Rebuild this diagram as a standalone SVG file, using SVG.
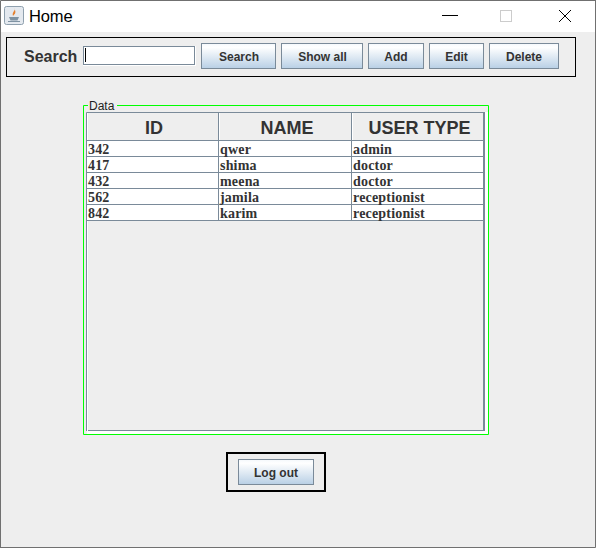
<svg xmlns="http://www.w3.org/2000/svg" width="596" height="548" viewBox="0 0 596 548">
<style>
.s{font-family:"Liberation Sans",Arial,sans-serif;font-weight:bold;fill:#333333}
.b{font-size:12px;text-anchor:middle}
.h{font-size:18px;text-anchor:middle}
.c{font-family:"Liberation Serif","Times New Roman",serif;font-weight:bold;font-size:14px;letter-spacing:.18px;fill:#333333}
.btn{fill:url(#g);stroke:#7a8a99;stroke-width:1}
.l{stroke:#7a8a99;stroke-width:1;fill:none}
</style>
<defs>
<linearGradient id="g" x1="0" y1="0" x2="0" y2="1">
<stop offset="0" stop-color="#f4f8fc"/><stop offset="0.15" stop-color="#ffffff"/><stop offset="1" stop-color="#b8cfe5"/>
</linearGradient>
</defs>
<rect width="596" height="548" fill="#eeeeee"/>
<g id="titlebar">
<rect x="0" y="0" width="596" height="32" fill="#ffffff"/>
<g id="app-icon">
<rect x="4.500" y="6.500" width="19" height="18" rx="2" fill="#e4e9ef" stroke="#8fa0ae"/>
<path d="M9 17h10l-1.500 3.500h-7z" fill="#7f93a3"/>
<path d="M8 21.500h12" stroke="#7f93a3"/>
<path d="M14 8c2.500 2.500-2.500 3.500-1 8 1.500-2 4-3 1-8z" fill="#e5812f"/>
</g>
<text x="29" y="22" font-family="'Liberation Sans',Arial,sans-serif" font-size="16.500" letter-spacing="-.15" fill="#000000">Home</text>
<path d="M442 15.500h16" stroke="#000" stroke-width="1"/>
<rect x="500.500" y="10.500" width="11" height="11" fill="none" stroke="#cccccc"/>
<path d="M559 10l12 12M571 10l-12 12" stroke="#000" stroke-width="1" fill="none"/>
</g>
<g id="search-panel">
<rect x="6.500" y="37.500" width="569" height="39" fill="none" stroke="#000"/>
<text class="s" x="24" y="62" font-size="16">Search</text>
<rect x="83" y="46" width="113" height="20" fill="#ffffff"/>
<rect x="83.500" y="46.500" width="111" height="18" fill="#ffffff" stroke="#7a8a99"/>
<path d="M85.500 48v14" stroke="#000"/>
</g>
<g id="btn-search"><rect class="btn" x="201.500" y="43.500" width="74" height="25"/><text class="s b" x="239" y="61">Search</text></g>
<g id="btn-showall"><rect class="btn" x="281.500" y="43.500" width="81" height="25"/><text class="s b" x="322.500" y="61">Show all</text></g>
<g id="btn-add"><rect class="btn" x="368.500" y="43.500" width="55" height="25"/><text class="s b" x="396" y="61">Add</text></g>
<g id="btn-edit"><rect class="btn" x="429.500" y="43.500" width="54" height="25"/><text class="s b" x="456.500" y="61">Edit</text></g>
<g id="btn-delete"><rect class="btn" x="489.500" y="43.500" width="69" height="25"/><text class="s b" x="524" y="61">Delete</text></g>
<g id="data-panel">
<rect x="84" y="106" width="404" height="328" fill="#ffffff"/>
<rect x="84" y="106" width="3" height="328" fill="#eeeeee"/>
<rect x="84" y="106" width="404" height="6" fill="#eeeeee"/>
<rect x="87" y="113" width="396" height="317" fill="#eeeeee"/>
<path d="M88 105.500H83.500V434.500H488.500V105.500H117" fill="none" stroke="#00ff00" stroke-width="1"/>
<text x="89" y="110" font-family="'Liberation Sans',Arial,sans-serif" font-size="12" fill="#222222">Data</text>
<path class="l" d="M86.500 431V112.500H484M88 430.500H485"/>
<path d="M484 112V431" stroke="#7a8a99" stroke-width="2" fill="none"/>
<path d="M87.500 113V431" stroke="#ffffff"/>
</g>
<g id="table">
<rect x="87" y="113" width="396" height="27" fill="#eeeeee"/>
<rect x="87" y="141" width="396" height="80" fill="#ffffff"/>
<path class="l" d="M86.500 140.500H483.500M86.500 156.500H483.500M86.500 172.500H483.500M86.500 188.500H483.500M86.500 204.500H483.500M86.500 220.500H483.500M218.500 112.500V220.500M351.500 112.500V220.500"/>
<path d="M219.500 113V140M352.500 113V140M87.500 113V140" stroke="#ffffff"/>
<text class="s h" x="154" y="134">ID</text>
<text class="s h" x="287" y="134">NAME</text>
<text class="s h" x="419.500" y="134">USER TYPE</text>
<text class="c" x="88" y="154">342</text><text class="c" x="220" y="154">qwer</text><text class="c" x="353" y="154">admin</text>
<text class="c" x="88" y="170">417</text><text class="c" x="220" y="170">shima</text><text class="c" x="353" y="170">doctor</text>
<text class="c" x="88" y="186">432</text><text class="c" x="220" y="186">meena</text><text class="c" x="353" y="186">doctor</text>
<text class="c" x="88" y="202">562</text><text class="c" x="220" y="202">jamila</text><text class="c" x="353" y="202">receptionist</text>
<text class="c" x="88" y="218">842</text><text class="c" x="220" y="218">karim</text><text class="c" x="353" y="218">receptionist</text>
</g>
<g id="logout">
<rect x="227" y="453" width="98" height="38" fill="none" stroke="#000" stroke-width="2"/>
<rect class="btn" x="238.500" y="459.500" width="75" height="25"/>
<text class="s b" x="276" y="477">Log out</text>
</g>
<g id="frame"><path d="M0.500 548V0.500H596M595.500 0V547.500H0" fill="none" stroke="#707070"/></g>
</svg>
